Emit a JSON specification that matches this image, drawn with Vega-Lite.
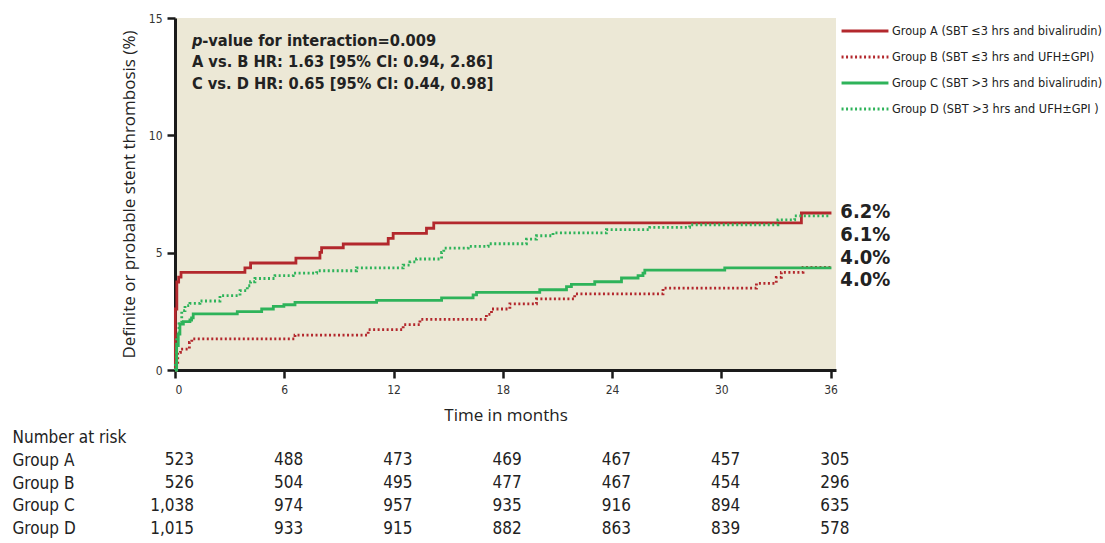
{
  "$schema": "https://vega.github.io/schema/vega-lite/v6.json",
  "padding": {"left": 12, "top": 12, "right": 2, "bottom": 2},
  "bounds": "flush",
  "spacing": 56,
  "config": {
    "view": {"stroke": null},
    "legend": {
      "orient": "none", "legendX": 665, "legendY": 0, "padding": 0, "title": null,
      "symbolType": "stroke", "symbolSize": 2200, "symbolStrokeWidth": 2.8,
      "clipHeight": 26, "rowPadding": 0,
      "labelFont": "DejaVu Sans Condensed", "labelFontSize": 12.6,
      "labelOffset": 2, "labelLimit": 400, "labelColor": "#222"
    }
  },
  "vconcat": [
    {
      "width": 661,
      "height": 352,
      "view": {"fill": "#ECE8D6", "stroke": null},
      "layer": [
        {
          "data": {"values": [
            {"g":"A","t":0,"v":0},{"g":"A","t":0.02,"v":2.6},{"g":"A","t":0.1,"v":3.75},{"g":"A","t":0.2,"v":3.96},{"g":"A","t":0.33,"v":4.16},{"g":"A","t":3.84,"v":4.35},{"g":"A","t":4.15,"v":4.56},{"g":"A","t":6.64,"v":4.77},{"g":"A","t":7.96,"v":5.01},{"g":"A","t":8.05,"v":5.21},{"g":"A","t":9.24,"v":5.37},{"g":"A","t":11.71,"v":5.61},{"g":"A","t":11.98,"v":5.82},{"g":"A","t":13.81,"v":6.04},{"g":"A","t":14.21,"v":6.27},{"g":"A","t":34.4,"v":6.69},{"g":"A","t":36.05,"v":6.69},
            {"g":"B","t":0,"v":0},{"g":"B","t":0.05,"v":0.33},{"g":"B","t":0.15,"v":0.75},{"g":"B","t":0.3,"v":0.89},{"g":"B","t":0.79,"v":1.18},{"g":"B","t":0.92,"v":1.33},{"g":"B","t":6.59,"v":1.49},{"g":"B","t":10.61,"v":1.72},{"g":"B","t":12.53,"v":1.93},{"g":"B","t":13.45,"v":2.16},{"g":"B","t":17.1,"v":2.37},{"g":"B","t":17.38,"v":2.6},{"g":"B","t":18.39,"v":2.82},{"g":"B","t":19.85,"v":3.03},{"g":"B","t":21.95,"v":3.24},{"g":"B","t":26.8,"v":3.49},{"g":"B","t":31.93,"v":3.69},{"g":"B","t":33.02,"v":3.95},{"g":"B","t":33.3,"v":4.16},{"g":"B","t":34.49,"v":4.37},{"g":"B","t":36.05,"v":4.37},
            {"g":"C","t":0,"v":0},{"g":"C","t":0.09,"v":1.04},{"g":"C","t":0.18,"v":1.53},{"g":"C","t":0.27,"v":1.96},{"g":"C","t":0.46,"v":2.06},{"g":"C","t":0.82,"v":2.13},{"g":"C","t":0.91,"v":2.22},{"g":"C","t":1.0,"v":2.39},{"g":"C","t":3.42,"v":2.49},{"g":"C","t":4.76,"v":2.6},{"g":"C","t":5.4,"v":2.71},{"g":"C","t":5.98,"v":2.78},{"g":"C","t":6.59,"v":2.88},{"g":"C","t":11.07,"v":2.97},{"g":"C","t":14.64,"v":3.07},{"g":"C","t":16.37,"v":3.2},{"g":"C","t":16.56,"v":3.31},{"g":"C","t":20.03,"v":3.42},{"g":"C","t":21.5,"v":3.55},{"g":"C","t":21.77,"v":3.65},{"g":"C","t":23.05,"v":3.76},{"g":"C","t":24.52,"v":3.92},{"g":"C","t":25.43,"v":4.02},{"g":"C","t":25.7,"v":4.13},{"g":"C","t":25.8,"v":4.26},{"g":"C","t":30.19,"v":4.35},{"g":"C","t":36.05,"v":4.35},
            {"g":"D","t":0,"v":0},{"g":"D","t":0.02,"v":0.2},{"g":"D","t":0.09,"v":1.46},{"g":"D","t":0.22,"v":2.04},{"g":"D","t":0.37,"v":2.53},{"g":"D","t":0.55,"v":2.74},{"g":"D","t":0.82,"v":2.84},{"g":"D","t":1.37,"v":2.94},{"g":"D","t":2.47,"v":3.17},{"g":"D","t":3.57,"v":3.38},{"g":"D","t":3.97,"v":3.59},{"g":"D","t":4.15,"v":3.76},{"g":"D","t":4.39,"v":3.9},{"g":"D","t":5.49,"v":4.02},{"g":"D","t":6.49,"v":4.13},{"g":"D","t":7.78,"v":4.23},{"g":"D","t":9.97,"v":4.35},{"g":"D","t":12.53,"v":4.47},{"g":"D","t":12.9,"v":4.61},{"g":"D","t":13.26,"v":4.73},{"g":"D","t":14.64,"v":5.01},{"g":"D","t":14.76,"v":5.19},{"g":"D","t":16.1,"v":5.27},{"g":"D","t":17.2,"v":5.38},{"g":"D","t":19.3,"v":5.58},{"g":"D","t":19.85,"v":5.72},{"g":"D","t":20.76,"v":5.84},{"g":"D","t":23.69,"v":5.98},{"g":"D","t":26.07,"v":6.08},{"g":"D","t":28.26,"v":6.19},{"g":"D","t":33.11,"v":6.4},{"g":"D","t":34.03,"v":6.57},{"g":"D","t":36.0,"v":6.57}
          ]},
          "mark": {"type": "line", "interpolate": "step-after", "strokeWidth": 2.8, "strokeCap": "butt"},
          "encoding": {
            "x": {
              "field": "t", "type": "quantitative",
              "scale": {"domain": [0, 36.3], "nice": false, "zero": false},
              "axis": {
                "values": [0, 6, 12, 18, 24, 30, 36],
                "title": "Time in months",
                "titleFont": "Open Sans", "titleFontSize": 17, "titleFontWeight": "normal", "titleColor": "#222", "titlePadding": 12,
                "labelFont": "DejaVu Sans Condensed", "labelFontSize": 12, "labelColor": "#333", "labelPadding": 6,
                "domainColor": "#1a1a1a", "domainWidth": 3, "tickColor": "#1a1a1a", "tickWidth": 2.5, "tickSize": 8,
                "grid": false
              }
            },
            "y": {
              "field": "v", "type": "quantitative",
              "scale": {"domain": [0, 15], "nice": false},
              "axis": {
                "values": [0, 5, 10, 15],
                "title": "Definite or probable stent thrombosis (%)",
                "titleFont": "Open Sans", "titleFontSize": 17, "titleFontWeight": "normal", "titleColor": "#222", "titlePadding": 10,
                "labelFont": "DejaVu Sans Condensed", "labelFontSize": 12, "labelColor": "#333", "labelPadding": 5,
                "domainColor": "#1a1a1a", "domainWidth": 3, "tickColor": "#1a1a1a", "tickWidth": 2.5, "tickSize": 8,
                "grid": false
              }
            },
            "color": {
              "field": "g", "type": "nominal",
              "scale": {"domain": ["A", "B", "C", "D"], "range": ["#B3282D", "#B3282D", "#2EB35A", "#2EB35A"]},
              "legend": {"labelExpr": "datum.label == 'A' ? 'Group A (SBT ≤3 hrs and bivalirudin)' : datum.label == 'B' ? 'Group B (SBT ≤3 hrs and UFH±GPI)' : datum.label == 'C' ? 'Group C (SBT >3 hrs and bivalirudin)' : 'Group D (SBT >3 hrs and UFH±GPI )'"}
            },
            "strokeDash": {
              "field": "g", "type": "nominal",
              "scale": {"domain": ["A", "B", "C", "D"], "range": [[1, 0], [2, 2.5], [1, 0], [2, 2.5]]},
              "legend": {"labelExpr": "datum.label == 'A' ? 'Group A (SBT ≤3 hrs and bivalirudin)' : datum.label == 'B' ? 'Group B (SBT ≤3 hrs and UFH±GPI)' : datum.label == 'C' ? 'Group C (SBT >3 hrs and bivalirudin)' : 'Group D (SBT >3 hrs and UFH±GPI )'"}
            }
          }
        },
        {
          "data": {"values": [{}]},
          "mark": {"type": "text", "text": "p", "align": "left", "baseline": "alphabetic", "font": "DejaVu Sans Condensed", "fontSize": 16.3, "fontWeight": "bold", "fontStyle": "italic", "color": "#222"},
          "encoding": {"x": {"datum": 0.93, "type": "quantitative"}, "y": {"datum": 13.82, "type": "quantitative"}}
        },
        {
          "data": {"values": [{}]},
          "mark": {"type": "text", "text": "-value for interaction=0.009", "align": "left", "baseline": "alphabetic", "dx": 10.2, "font": "DejaVu Sans Condensed", "fontSize": 16.3, "fontWeight": "bold", "color": "#222"},
          "encoding": {"x": {"datum": 0.93, "type": "quantitative"}, "y": {"datum": 13.82, "type": "quantitative"}}
        },
        {
          "data": {"values": [{}]},
          "mark": {"type": "text", "text": ["A vs. B HR: 1.63 [95% CI: 0.94, 2.86]", "C vs. D HR: 0.65 [95% CI: 0.44, 0.98]"], "lineHeight": 21.7, "align": "left", "baseline": "alphabetic", "font": "DejaVu Sans Condensed", "fontSize": 16.3, "fontWeight": "bold", "color": "#222"},
          "encoding": {"x": {"datum": 0.93, "type": "quantitative"}, "y": {"datum": 12.9, "type": "quantitative"}}
        },
        {
          "data": {"values": [{}]},
          "mark": {"type": "text", "text": ["6.2%", "6.1%", "4.0%", "4.0%"], "lineHeight": 22.8, "align": "left", "baseline": "alphabetic", "font": "DejaVu Sans Condensed", "fontSize": 20, "fontWeight": "bold", "color": "#222"},
          "encoding": {"x": {"datum": 36.54, "type": "quantitative"}, "y": {"datum": 6.48, "type": "quantitative"}}
        }
      ]
    },
    {
      "width": 661,
      "height": 114,
      "view": {"stroke": null},
      "data": {"values": [
        {"group":"Group A","t":0,"n":523},{"group":"Group A","t":6,"n":488},{"group":"Group A","t":12,"n":473},{"group":"Group A","t":18,"n":469},{"group":"Group A","t":24,"n":467},{"group":"Group A","t":30,"n":457},{"group":"Group A","t":36,"n":305},
        {"group":"Group B","t":0,"n":526},{"group":"Group B","t":6,"n":504},{"group":"Group B","t":12,"n":495},{"group":"Group B","t":18,"n":477},{"group":"Group B","t":24,"n":467},{"group":"Group B","t":30,"n":454},{"group":"Group B","t":36,"n":296},
        {"group":"Group C","t":0,"n":1038},{"group":"Group C","t":6,"n":974},{"group":"Group C","t":12,"n":957},{"group":"Group C","t":18,"n":935},{"group":"Group C","t":24,"n":916},{"group":"Group C","t":30,"n":894},{"group":"Group C","t":36,"n":635},
        {"group":"Group D","t":0,"n":1015},{"group":"Group D","t":6,"n":933},{"group":"Group D","t":12,"n":915},{"group":"Group D","t":18,"n":882},{"group":"Group D","t":24,"n":863},{"group":"Group D","t":30,"n":839},{"group":"Group D","t":36,"n":578}
      ]},
      "mark": {"type": "text", "align": "right", "baseline": "middle", "dx": 19, "font": "DejaVu Sans Condensed", "fontSize": 17, "color": "#222"},
      "encoding": {
        "x": {"field": "t", "type": "quantitative", "scale": {"domain": [0, 36.3], "nice": false, "zero": false}, "axis": null},
        "y": {
          "field": "group", "type": "nominal",
          "scale": {"domain": ["Number at risk", "Group A", "Group B", "Group C", "Group D"], "paddingInner": 0, "paddingOuter": 0},
          "axis": {"title": null, "domain": false, "ticks": false, "grid": false, "labelAlign": "left", "labelBaseline": "middle", "labelPadding": 163, "labelFont": "DejaVu Sans Condensed", "labelFontSize": 17, "labelColor": "#222", "labelLimit": 300}
        },
        "text": {"field": "n", "type": "quantitative", "format": ",d"}
      }
    }
  ]
}
